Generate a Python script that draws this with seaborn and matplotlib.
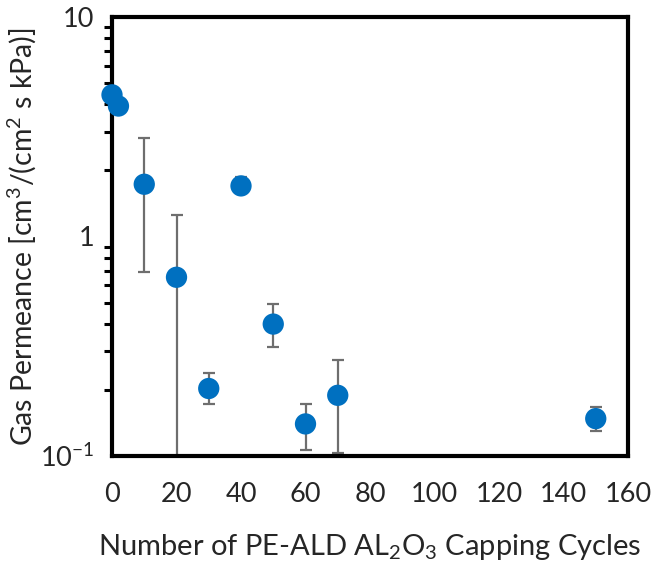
import matplotlib
matplotlib.use("Agg")
import matplotlib.pyplot as plt
import seaborn as sns
import numpy as np
import pandas as pd
from matplotlib.ticker import LogLocator, NullFormatter, FixedLocator

cycles = [0, 2, 10, 20, 30, 40, 50, 60, 70, 150]
permeance = [4.42, 3.93, 1.73, 0.652, 0.203, 1.70, 0.399, 0.140, 0.189, 0.148]
err_low = [4.42, 3.93, 0.687, 0.05, 0.173, 1.58, 0.314, 0.106, 0.103, 0.130]
err_high = [4.42, 3.93, 2.80, 1.25, 0.239, 1.86, 0.493, 0.173, 0.274, 0.168]
xticks = [0, 20, 40, 60, 80, 100, 120, 140, 160]
yticks = [0.1, 1, 10]
ytick_labels = ["$10^{-1}$", "1", "10"]

sns.set_theme(style="white")
plt.rcParams["font.family"] = ["Lato", "DejaVu Sans"]
plt.rcParams["mathtext.default"] = "regular"

df = pd.DataFrame({"cycles": cycles, "permeance": permeance})

fig = plt.figure(figsize=(6.52, 5.69), dpi=100)
ax = fig.add_axes([112/652, 1 - 456/569, (628-112)/652, (456-17)/569])

yerr = np.array([np.array(permeance) - np.array(err_low),
                 np.array(err_high) - np.array(permeance)])
ax.errorbar(cycles, permeance, yerr=yerr, fmt="none", ecolor="#6e6e6e",
            elinewidth=1.6, capsize=4, capthick=1.6, zorder=2)
sns.scatterplot(data=df, x="cycles", y="permeance", ax=ax, s=235,
                color="#0070C0", edgecolor="none", linewidth=0,
                zorder=5, clip_on=False, legend=False)

ax.set_yscale("log")
ax.set_xlim(0, 160)
ax.set_ylim(0.1, 10)
ax.set_xticks(xticks)
ax.set_xticklabels([str(t) for t in xticks])
ax.yaxis.set_major_locator(FixedLocator(yticks))
ax.set_yticklabels(ytick_labels)
ax.yaxis.set_minor_locator(LogLocator(base=10, subs=np.arange(2, 10)))
ax.yaxis.set_minor_formatter(NullFormatter())

for s in ax.spines.values():
    s.set_visible(True)
    s.set_color("black")
    s.set_linewidth(3)

ax.tick_params(axis="both", which="major", direction="out", length=7,
               width=2.2, color="black", labelsize=19.5, labelcolor="#262626")
ax.tick_params(axis="y", which="minor", direction="out", length=6,
               width=2.2, color="black", left=True)
ax.tick_params(axis="x", pad=12)
ax.tick_params(axis="y", pad=6)

ax.set_xlabel("Number of PE-ALD AL$_2$O$_3$ Capping Cycles", fontsize=21,
              color="#262626", labelpad=18)
ax.set_ylabel("Gas Permeance [cm$^3$/(cm$^2$ s kPa)]", fontsize=20.5,
              color="#262626", labelpad=1)

fig.savefig("out.png", dpi=100)
